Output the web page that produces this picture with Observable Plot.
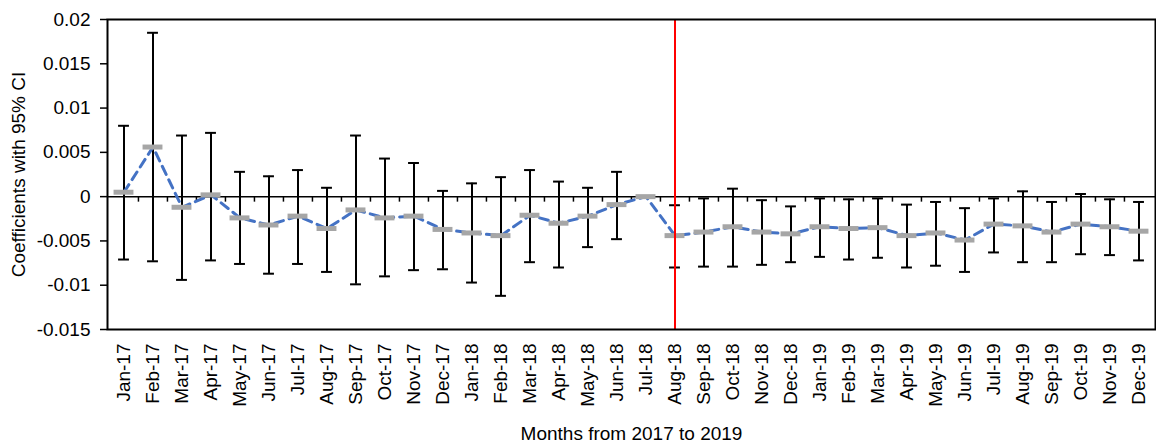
<!DOCTYPE html>
<html>
<head>
<meta charset="utf-8">
<script src="https://cdn.jsdelivr.net/npm/d3@7"></script>
<script src="https://cdn.jsdelivr.net/npm/@observablehq/plot@0.6"></script>
<style>
  html, body { margin: 0; padding: 0; background: #fff; }
  #chart svg { display: block; }
</style>
</head>
<body>
<div id="chart"></div>
<script>
const months = ["Jan-17","Feb-17","Mar-17","Apr-17","May-17","Jun-17","Jul-17","Aug-17","Sep-17","Oct-17","Nov-17","Dec-17",
                "Jan-18","Feb-18","Mar-18","Apr-18","May-18","Jun-18","Jul-18","Aug-18","Sep-18","Oct-18","Nov-18","Dec-18",
                "Jan-19","Feb-19","Mar-19","Apr-19","May-19","Jun-19","Jul-19","Aug-19","Sep-19","Oct-19","Nov-19","Dec-19"];
const coef  = [0.0005, 0.0056, -0.0012, 0.0002, -0.0024, -0.0032, -0.0022, -0.0036, -0.0015, -0.0024, -0.0022, -0.0037,
               -0.0041, -0.0044, -0.0021, -0.0030, -0.0022, -0.0009, 0.0000, -0.0044, -0.0040, -0.0034, -0.0040, -0.0042,
               -0.0034, -0.0036, -0.0035, -0.0044, -0.0041, -0.0049, -0.0031, -0.0033, -0.0040, -0.0031, -0.0034, -0.0039];
const upper = [0.0080, 0.0185, 0.0069, 0.0072, 0.0028, 0.0023, 0.0030, 0.0010, 0.0069, 0.0043, 0.0038, 0.00065,
               0.0015, 0.0022, 0.0030, 0.0017, 0.0010, 0.0028, null, -0.00097, -0.0002, 0.0009, -0.0004, -0.0011,
               -0.0002, -0.0003, -0.0002, -0.0009, -0.0006, -0.0013, -0.0002, 0.0006, -0.0006, 0.0003, -0.0003, -0.0006];
const lower = [-0.0071, -0.0073, -0.0094, -0.0072, -0.0076, -0.0087, -0.0076, -0.0085, -0.0099, -0.0090, -0.0083, -0.0082,
               -0.0097, -0.0112, -0.0074, -0.0080, -0.0057, -0.0048, null, -0.0080, -0.0079, -0.0079, -0.0077, -0.0074,
               -0.0068, -0.0071, -0.0069, -0.0080, -0.0078, -0.0085, -0.0063, -0.0074, -0.0074, -0.0065, -0.0066, -0.0072];
const yTicks = [-0.015, -0.01, -0.005, 0, 0.005, 0.01, 0.015, 0.02];
const yTickLabels = ["-0.015", "-0.01", "-0.005", "0", "0.005", "0.01", "0.015", "0.02"];
const refMonth = "Aug-18";
const xTitle = "Months from 2017 to 2019";
const yTitle = "Coefficients with 95% CI";

const data = months.map((m, i) => ({month: m, coef: coef[i], lo: lower[i], hi: upper[i]}));
const ci = data.filter(d => d.lo != null && d.hi != null);

const W = 1156, H = 444, mL = 107, mR = 1, mT = 19, mB = 115;
const bw = (W - mL - mR) / months.length;
const font = "'Liberation Sans', Arial, sans-serif";
const fs = 19;

const tickSymbol = { draw(ctx) { ctx.moveTo(0, 0); ctx.lineTo(0, 5); } };

const chart = Plot.plot({
  width: W, height: H,
  marginLeft: mL, marginRight: mR, marginTop: mT, marginBottom: mB,
  style: { fontFamily: font, fontSize: fs + "px", color: "#000", background: "#fff" },
  x: { type: "band", domain: months, padding: 0, label: null },
  y: { domain: [-0.015, 0.02], label: null },
  marks: [
    Plot.axisY({ ticks: yTicks, tickFormat: d => yTickLabels[yTicks.indexOf(d)], tickSize: 7, tickPadding: 10, strokeWidth: 1.5, fontSize: fs, label: null }),
    Plot.axisX({ tickSize: 0, tickRotate: -90, tickPadding: 14, fontSize: fs, label: null }),
    Plot.ruleY([0], { stroke: "#000", strokeWidth: 1.5 }),
    Plot.dot(months.slice(1), { x: d => d, y: () => 0, dx: -bw / 2, symbol: tickSymbol, stroke: "#000", strokeWidth: 1.5, fill: "none" }),
    Plot.ruleX(ci, { x: "month", y1: "lo", y2: "hi", stroke: "#000", strokeWidth: 2 }),
    Plot.tickY(ci, { x: "month", y: "lo", stroke: "#000", strokeWidth: 2, insetLeft: (bw - 11) / 2, insetRight: (bw - 11) / 2 }),
    Plot.tickY(ci, { x: "month", y: "hi", stroke: "#000", strokeWidth: 2, insetLeft: (bw - 11) / 2, insetRight: (bw - 11) / 2 }),
    Plot.line(data, { x: "month", y: "coef", stroke: "#4472C4", strokeWidth: 3, strokeDasharray: "9,6" }),
    Plot.tickY(data, { x: "month", y: "coef", stroke: "#A6A6A6", strokeWidth: 5, insetLeft: (bw - 20) / 2, insetRight: (bw - 20) / 2 }),
    Plot.ruleX([refMonth], { x: d => d, stroke: "#FF0000", strokeWidth: 2 }),
    Plot.frame({ stroke: "#000", strokeWidth: 2 }),
    Plot.text([yTitle], { text: d => d, frameAnchor: "left", textAnchor: "middle", lineAnchor: "middle", dx: -89, rotate: -90, fontSize: fs, fill: "#000" }),
    Plot.text([xTitle], { text: d => d, frameAnchor: "bottom", textAnchor: "middle", lineAnchor: "middle", dy: 104, fontSize: fs, fill: "#000" })
  ]
});
document.getElementById("chart").appendChild(chart);
</script>
</body>
</html>
